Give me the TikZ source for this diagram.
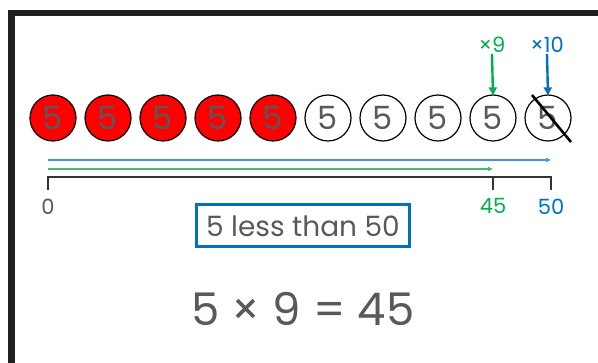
\documentclass[tikz,border=0pt]{standalone}
\usepackage{fontspec}
\setmainfont{Poppins}
\usetikzlibrary{arrows.meta}

\definecolor{inkgray}{HTML}{595959}
\definecolor{redfill}{HTML}{FF0000}
\definecolor{markgreen}{HTML}{00B050}
\definecolor{markblue}{HTML}{0070C0}
\definecolor{linegreen}{HTML}{3DBE6A}
\definecolor{lineblue}{HTML}{4A90D9}

\tikzset{
  counter/.style={circle, draw=black, line width=1.2pt, minimum size=46pt,
    inner sep=0pt, text=inkgray, font=\fontsize{32}{32}\selectfont},
  tag/.style={font=\fontsize{21}{21}\selectfont, inner sep=1pt},
  tick/.style={font=\fontsize{21}{21}\selectfont},
  pointer/.style={line width=2.4pt, -{Triangle[length=8pt,width=8pt]}},
  jump/.style={line width=1.6pt, -{Triangle[length=5pt,width=4pt]}}
}

\begin{document}
\begin{tikzpicture}[x=1pt,y=-1pt]
  \useasboundingbox (0,0) rectangle (598,363);
  % frame
  \fill[black!88] (8,10) rectangle (598,16);
  \fill[black!88] (8,10) rectangle (15,363);

  % counters
  \foreach \i in {1,...,10} {
    \ifnum\i<6
      \node[counter, fill=redfill] (c\i) at ({53+55*(\i-1)},118) {5};
    \else
      \node[counter] (c\i) at ({53+55*(\i-1)},118) {5};
    \fi
  }
  \draw[line width=2.6pt] ([shift={(-16,-23)}]c10.center) -- ([shift={(23,24)}]c10.center);

  % pointers
  \node[tag, text=markgreen] (t9) at (492,45) {×9};
  \node[tag, text=markblue] (t10) at (547,45) {×10};
  \draw[pointer, markgreen] (t9.south) -- ([yshift=-1pt]c9.north);
  \draw[pointer, markblue] (t10.south) -- ([yshift=-1pt]c10.north);

  % number line
  \coordinate (z) at (48,177);
  \coordinate (m45) at (493,177);
  \coordinate (m50) at (551,177);
  \draw[line width=1.4pt, black!80] ([yshift=-13pt]z) -- (z) -- (m50) -- ([yshift=-13pt]m50);
  \draw[line width=1.4pt, black!80] (m45) -- ([yshift=-13pt]m45);
  \draw[jump, lineblue] ([yshift=17pt]z) -- ([yshift=17pt]m50);
  \draw[jump, linegreen] ([yshift=8pt]z) -- ([yshift=8pt]m45);

  \node[tick, text=inkgray] (l0) at (48,207) {0};
  \node[tick, text=markgreen] (l45) at (493,206) {45};
  \node[tick, text=markblue] (l50) at (551,207) {50};

  % comparison and equation
  \node[draw=markblue, line width=3pt, minimum width=213pt, minimum height=42pt,
    text=inkgray, font=\fontsize{28}{28}\selectfont] (cmp) at (303,226) {5 less than 50};
  \node[text=inkgray, font=\fontsize{45}{45}\selectfont] (eq) at (303,309) {5 × 9 = 45};
\end{tikzpicture}
\end{document}
